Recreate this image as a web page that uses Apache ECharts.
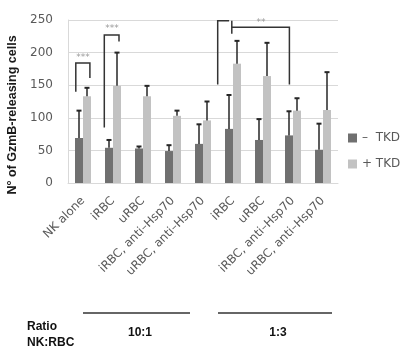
<!DOCTYPE html>
<html>
<head>
<meta charset="utf-8">
<script src="https://cdn.jsdelivr.net/npm/echarts@6/dist/echarts.min.js"></script>
<style>html,body{margin:0;padding:0;background:#fff;}#c{width:400px;height:354px;}</style>
</head>
<body>
<div id="c"></div>
<script>
// ---- data ----
const categories = ['NK alone','iRBC','uRBC','iRBC, anti–Hsp70','uRBC, anti–Hsp70','iRBC','uRBC','iRBC, anti–Hsp70','uRBC, anti–Hsp70'];
const seriesNames = ['–  TKD', '+ TKD'];
const minusTKD = [69, 54, 53, 49, 60, 83, 66, 73, 51];
const minusSD  = [42, 12, 3, 9, 30, 52, 32, 37, 40];
const plusTKD  = [133, 149, 133, 103, 96, 183, 164, 111, 112];
const plusSD   = [13, 51, 16, 8, 29, 35, 51, 19, 58];
const yTicks = [0, 50, 100, 150, 200, 250];
// significance brackets: polylines in [category position, value]
const brackets = [
  [[-0.24,140],[-0.24,184],[0.23,184],[0.23,161]],
  [[0.71,85],[0.71,227],[1.2,227],[1.2,217]],
  [[4.49,151],[4.49,249],[4.87,249]],
  [[4.96,249],[4.96,229]],
  [[4.96,239],[6.88,239],[6.88,151]]
];
const stars = [['***',0.0,192],['***',0.97,236],['**',5.93,246]];
const groups = ['10:1','1:3'];
const ratioLabel = ['Ratio','NK:RBC'];
const yTitle = 'N° of GzmB-releasing cells';

const chart = echarts.init(document.getElementById('c'));
const lab = '#595959';
const font = 'DejaVu Sans';
function errItem(sd, vals, side){
  return function(params, api){
    const i = api.value(0);
    const v = vals[i], e = sd[i];
    const p0 = api.coord([i, v]);
    const p1 = api.coord([i, v + e]);
    const x = p0[0] + side*4;
    return {type:'group', children:[
      {type:'line', shape:{x1:x,y1:p0[1],x2:x,y2:p1[1]}, style:{stroke:'#262626',lineWidth:1.5}},
      {type:'line', shape:{x1:x-2.5,y1:p1[1],x2:x+2.5,y2:p1[1]}, style:{stroke:'#262626',lineWidth:2}}
    ]};
  };
}
const option = {
  backgroundColor:'#fff',
  animation:false,
  grid:{left:68,right:62,top:20,bottom:171,containLabel:false},
  legend:{
    orient:'vertical', left:343, top:127, itemWidth:9, itemHeight:9, itemGap:14,
    icon:'rect',
    textStyle:{color:lab, fontFamily:font, fontSize:12},
    data:seriesNames
  },
  xAxis:[{
    type:'category', data:categories,
    axisLine:{lineStyle:{color:'#d9d9d9'}}, axisTick:{show:false},
    axisLabel:{rotate:45, interval:0, color:lab, fontFamily:font, fontSize:11.8, margin:16}
  },{
    type:'value', min:-0.5, max:8.5, show:false
  }],
  yAxis:{
    type:'value', min:0, max:250, interval:50,
    axisLine:{show:true, onZero:false, lineStyle:{color:'#d9d9d9'}}, axisTick:{show:false},
    axisLabel:{color:lab, fontFamily:font, fontSize:12, margin:15, customValues: yTicks},
    splitLine:{lineStyle:{color:'#d9d9d9'}}
  },
  series:[
    {name:seriesNames[0], type:'bar', data:minusTKD, barWidth:8, barGap:'0%', itemStyle:{color:'#707070'}},
    {name:seriesNames[1], type:'bar', data:plusTKD, barWidth:8, barGap:'0%', itemStyle:{color:'#c2c2c2'}},
    {type:'custom', data:minusTKD.map((v,i)=>[i,v]), renderItem:errItem(minusSD, minusTKD, -1), z:5, clip:false},
    {type:'custom', data:plusTKD.map((v,i)=>[i,v]), renderItem:errItem(plusSD, plusTKD, 1), z:5, clip:false},
    {type:'custom', xAxisIndex:1, data:brackets.map((b,i)=>[i]), clip:false, z:6,
     renderItem:function(params, api){
       const pts = brackets[params.dataIndex].map(p=>api.coord(p));
       return {type:'polyline', shape:{points:pts}, style:{stroke:'#333',lineWidth:1.5,fill:null}};
     }},
    {type:'custom', xAxisIndex:1, data:stars.map(s=>[s[1],s[2]]), clip:false, z:6,
     renderItem:function(params, api){
       const s = stars[params.dataIndex];
       const p = api.coord([s[1], s[2]]);
       return {type:'text', x:p[0], y:p[1], style:{text:s[0], fill:'#9a9a9a', fontSize:9, fontFamily:'DejaVu Sans', align:'center', verticalAlign:'middle'}};
     }}
  ],
  graphic:[
    {type:'text', x:13, y:115, rotation:Math.PI/2, style:{text:yTitle, fill:'#1a1a1a', font:'bold 12.5px "Liberation Sans"', align:'center', verticalAlign:'middle'}},
    {type:'line', shape:{x1:83,y1:313,x2:190,y2:313}, style:{stroke:'#333',lineWidth:1.5}},
    {type:'line', shape:{x1:218,y1:313,x2:332,y2:313}, style:{stroke:'#333',lineWidth:1.5}},
    {type:'text', x:140, y:333, style:{text:groups[0], fill:'#111', font:'bold 12px "Liberation Sans"', align:'center', verticalAlign:'middle'}},
    {type:'text', x:278, y:333, style:{text:groups[1], fill:'#111', font:'bold 12px "Liberation Sans"', align:'center', verticalAlign:'middle'}},
    {type:'text', x:27, y:327, style:{text:ratioLabel[0], fill:'#111', font:'bold 12px "Liberation Sans"', align:'left', verticalAlign:'middle'}},
    {type:'text', x:27, y:343, style:{text:ratioLabel[1], fill:'#111', font:'bold 12px "Liberation Sans"', align:'left', verticalAlign:'middle'}}
  ]
};
chart.setOption(option);
</script>
</body>
</html>
